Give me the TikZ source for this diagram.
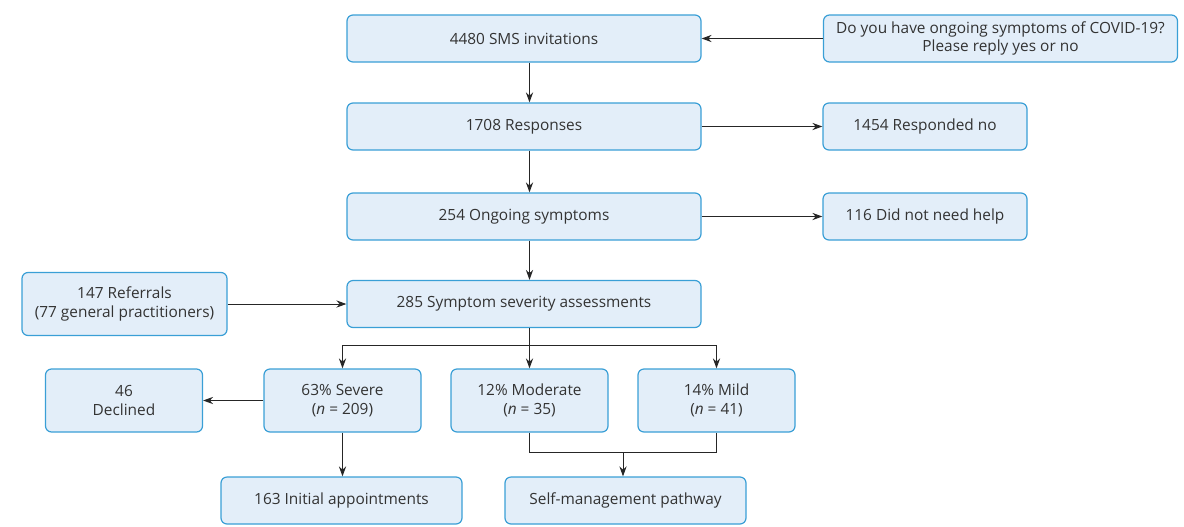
\documentclass[tikz,border=0pt]{standalone}
\usepackage{fontspec}
\setmainfont{Open Sans}
\usepackage{tikz}
\usetikzlibrary{positioning,arrows.meta,calc}
\usepackage{xcolor}
\definecolor{boxfill}{HTML}{E3EEF9}
\definecolor{boxline}{HTML}{3A9FD6}
\definecolor{inktext}{HTML}{333333}

\begin{document}
\begin{tikzpicture}[x=0.5pt, y=-0.5pt,
    flowbox/.style={draw=boxline, fill=boxfill, rounded corners=3pt, line width=0.6pt,
        align=center, inner sep=0pt, text=inktext, font=\fontsize{7.7}{9.4}\selectfont},
    widebox/.style={flowbox, minimum width=177pt, minimum height=23.5pt},
    sidebox/.style={flowbox, minimum width=102pt, minimum height=23.5pt},
    gradebox/.style={flowbox, minimum width=78.5pt, minimum height=31.5pt},
    endbox/.style={flowbox, minimum width=120.5pt, minimum height=23.5pt},
    link/.style={-{Stealth[length=5pt,width=3.6pt]}, line width=0.5pt, draw=black!85}]
    \useasboundingbox (0,0) rectangle (1184,526);

    % main column
    \node[widebox] (sms) at (524,38.5) {4480 SMS invitations};
    \node[widebox] (resp) at (524,126.5) {1708 Responses};
    \node[widebox] (ongo) at (524,216.5) {254 Ongoing symptoms};
    \node[widebox] (sev) at (524,304) {285 Symptom severity assessments};

    % side boxes
    \node[widebox] (quest) at (1000.5,38.5) {Do you have ongoing symptoms of COVID-19?\\Please reply yes or no};
    \node[sidebox] (respno) at (925,126.5) {1454 Responded no};
    \node[sidebox] (nohelp) at (925,216.5) {116 Did not need help};
    \node[flowbox, minimum width=102.5pt, minimum height=31.5pt] (refer) at (124.5,304) {147 Referrals\\(77 general practitioners)};

    % severity grades
    \node[gradebox] (decl) at (124,400.5) {46\\Declined};
    \node[gradebox] (severe) at (342.5,400.5) {63\% Severe\\({\itshape n} = 209)};
    \node[gradebox] (mod) at (529.5,400.5) {12\% Moderate\\({\itshape n} = 35)};
    \node[gradebox] (mild) at (716.5,400.5) {14\% Mild\\({\itshape n} = 41)};

    % outcomes
    \node[endbox] (init) at (341.5,500.5) {163 Initial appointments};
    \node[endbox] (self) at (625.5,500.5) {Self-management pathway};

    \draw[link] (quest.west) -- (sms.east);
    \draw[link] (sms.south -| mod.north) -- (resp.north -| mod.north);
    \draw[link] (resp.east) -- (respno.west);
    \draw[link] (resp.south -| mod.north) -- (ongo.north -| mod.north);
    \draw[link] (ongo.east) -- (nohelp.west);
    \draw[link] (ongo.south -| mod.north) -- (sev.north -| mod.north);
    \draw[link] (refer.east) -- (sev.west);

    \draw[link] (sev.south -| mod.north) -- (mod.north);
    \draw[link] (sev.south -| mod.north) -- ++(0,17) -| (severe.north);
    \draw[link] (sev.south -| mod.north) -- ++(0,17) -| (mild.north);

    \draw[link] (severe.west) -- (decl.east);
    \draw[link] (severe.south) -- (severe.south |- init.north);

    \coordinate (merge) at ($(mod.south)!0.5!(mild.south)+(0,20)$);
    \draw[line width=0.5pt, draw=black!85] (mod.south) |- (merge) -| (mild.south);
    \draw[link] (merge) -- (merge |- self.north);
\end{tikzpicture}
\end{document}
